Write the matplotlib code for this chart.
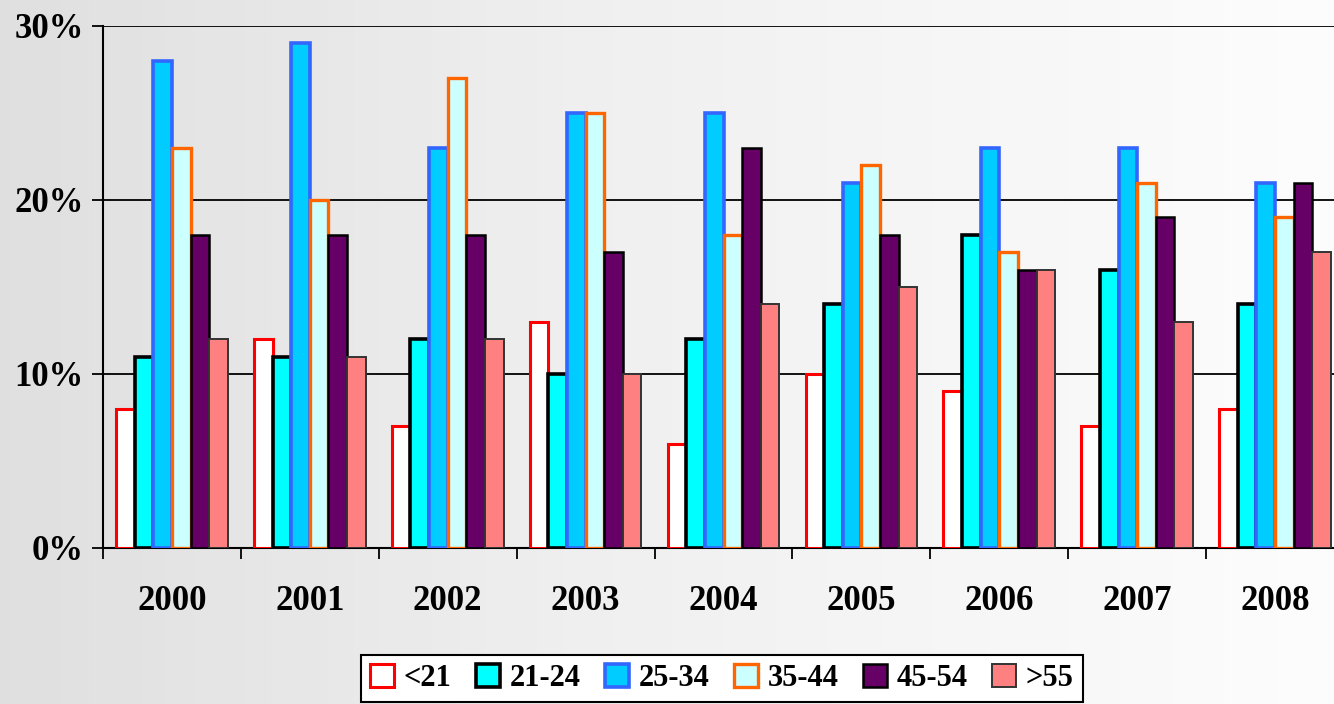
import matplotlib.pyplot as plt
import numpy as np

years = ["2000", "2001", "2002", "2003", "2004", "2005", "2006", "2007", "2008"]
groups = ["<21", "21-24", "25-34", "35-44", "45-54", ">55"]

lt21 = [8, 12, 7, 13, 6, 10, 9, 7, 8]
a21_24 = [11, 11, 12, 10, 12, 14, 18, 16, 14]
a25_34 = [28, 29, 23, 25, 25, 21, 23, 23, 21]
a35_44 = [23, 20, 27, 25, 18, 22, 17, 21, 19]
a45_54 = [18, 18, 18, 17, 23, 18, 16, 19, 21]
gt55 = [12, 11, 12, 10, 14, 15, 16, 13, 17]

series = [lt21, a21_24, a25_34, a35_44, a45_54, gt55]
faces = ["white", "#00FFFF", "#00CCFF", "#CCFFFF", "#660066", "#FF8080"]
edges = ["#FF0000", "black", "#3366FF", "#FF6600", "black", "#333333"]
lws = [2.2, 2.6, 2.6, 2.4, 1.8, 1.4]

plt.rcParams['font.family'] = ['Liberation Serif', 'DejaVu Serif']
plt.rcParams['font.weight'] = 'bold'

fig = plt.figure(figsize=(13.34, 7.04), dpi=100)

# faded background
bg = fig.add_axes([0, 0, 1, 1], zorder=-5)
grad = np.linspace(0, 1, 256)
img = np.tile(grad, (10, 1))
bg.imshow(img, aspect='auto', cmap='Greys_r', vmin=-4.0, vmax=1.1, extent=[0, 1, 0, 1])
bg.axis('off')

ax = fig.add_axes([103 / 1334, 1 - 548 / 704, 1241 / 1334, (548 - 26) / 704])
ax.set_facecolor('none')

x = np.arange(len(years))
w = 0.135
for i, (vals, fc, ec, lw) in enumerate(zip(series, faces, edges, lws)):
    ax.bar(x + (i - 2.5) * w, vals, width=w, color=fc, edgecolor=ec,
           linewidth=lw, label=groups[i], zorder=3)

ax.set_xlim(-0.5, len(years) - 0.5)
ax.set_ylim(0, 30)
ax.set_yticks([0, 10, 20, 30])
ax.set_yticklabels(["0%", "10%", "20%", "30%"], fontsize=25, fontweight='bold')
ax.yaxis.grid(True, color='black', linewidth=1.3)
ax.set_axisbelow(True)
ax.tick_params(axis='y', length=8, width=1.3, pad=6)

ax.set_xticks(x)
ax.set_xticklabels(years, fontsize=25, fontweight='bold')
ax.set_xticks(np.arange(len(years)) - 0.5, minor=True)
ax.tick_params(axis='x', which='major', length=0, pad=27)
ax.tick_params(axis='x', which='minor', length=8, width=1.3)

for s in ['top', 'right']:
    ax.spines[s].set_visible(False)
for s in ['left', 'bottom']:
    ax.spines[s].set_linewidth(1.5)

leg = fig.legend(loc='upper center', bbox_to_anchor=(0.541, 0.092), ncol=6,
                 fontsize=22, frameon=True, fancybox=False, edgecolor='black',
                 handlelength=0.8, handleheight=0.8, handletextpad=0.3,
                 columnspacing=0.8, borderpad=0.3)
leg.get_frame().set_linewidth(1.5)
leg.get_frame().set_facecolor('white')
leg.get_frame().set_alpha(1)
for t in leg.get_texts():
    t.set_fontweight('bold')

fig.savefig("out.png", dpi=100)
